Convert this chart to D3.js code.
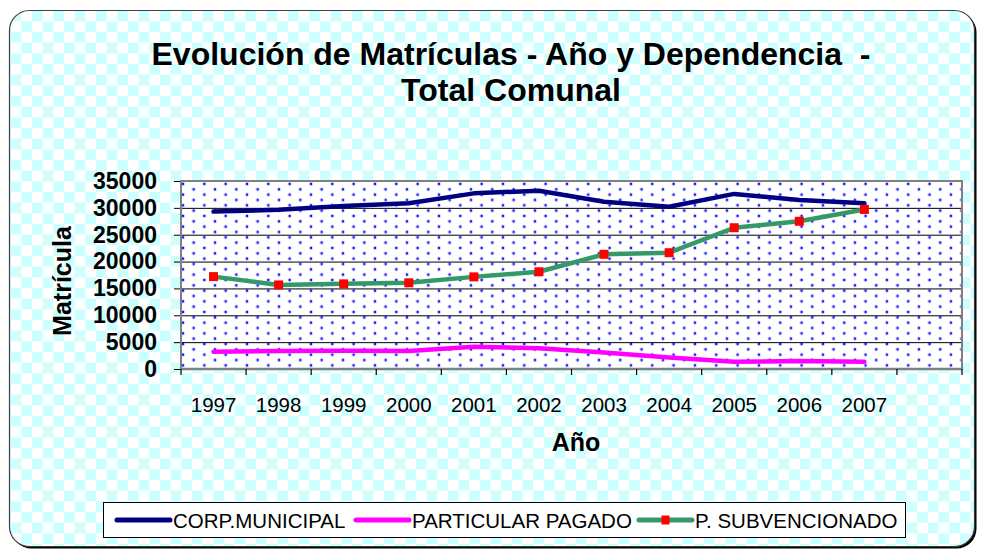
<!DOCTYPE html>
<html lang="es">
<head>
  <meta charset="UTF-8">
  <title>Evolución de Matrículas</title>
  <script src="https://cdn.jsdelivr.net/npm/d3@7"></script>
  <style>
    body { margin: 0; background: #fff; }
    svg { display: block; font-family: Arial, "Liberation Sans", sans-serif; }
    .grid line { stroke: #000; stroke-width: 1px; }
    .ylab { font-size: 23px; font-weight: bold; }
    .xlab { font-size: 20.5px; }
    .legend text { font-size: 20.5px; }
  </style>
</head>
<body>
<div class="chart"></div>
<script>
  // datos
  const years = ['1997', '1998', '1999', '2000', '2001', '2002', '2003', '2004', '2005', '2006', '2007', ''];
  const corpMunicipal = [29300, 29650, 30350, 30850, 32700, 33200, 31150, 30200, 32600, 31450, 30850];
  const particularPagado = [3230, 3350, 3400, 3350, 4150, 3850, 3050, 2150, 1350, 1500, 1350];
  const subvencionado = [17200, 15650, 15850, 16050, 17150, 18100, 21350, 21650, 26300, 27500, 29700];
  const yTicks = [0, 5000, 10000, 15000, 20000, 25000, 30000, 35000];

  const series = [
    { name: 'CORP.MUNICIPAL', values: corpMunicipal, color: '#000080', marker: false },
    { name: 'PARTICULAR PAGADO', values: particularPagado, color: '#ff00ff', marker: false },
    { name: 'P. SUBVENCIONADO', values: subvencionado, color: '#339966', marker: true }
  ];

  const W = 982, H = 552;
  const plot = { left: 181, right: 962, top: 181, bottom: 369 };

  const svg = d3.select('.chart').append('svg').attr('width', W).attr('height', H);
  const defs = svg.append('defs');

  // fondo a cuadros
  const chk = defs.append('pattern').attr('id', 'checker').attr('patternUnits', 'userSpaceOnUse')
    .attr('width', 21.33).attr('height', 21.33);
  chk.append('rect').attr('width', 21.33).attr('height', 21.33).attr('fill', '#fff');
  chk.append('rect').attr('width', 10.67).attr('height', 10.67).attr('fill', '#ccffff');
  chk.append('rect').attr('x', 10.67).attr('y', 10.67).attr('width', 10.67).attr('height', 10.67).attr('fill', '#ccffff');

  // puntos del area de trazado
  const dots = defs.append('pattern').attr('id', 'dots').attr('patternUnits', 'userSpaceOnUse')
    .attr('x', plot.left + 2).attr('y', plot.top + 3)
    .attr('width', 21.33).attr('height', 10.67);
  dots.append('rect').attr('width', 21.33).attr('height', 10.67).attr('fill', '#fff');
  [[0, 0], [21.33, 0], [0, 10.67], [21.33, 10.67], [10.67, 5.33]].forEach(([x, y]) => {
    dots.append('circle').attr('cx', x).attr('cy', y).attr('r', 1.9).attr('fill', '#c4c4ff');
    dots.append('circle').attr('cx', x).attr('cy', y).attr('r', 1.1).attr('fill', '#0000ff');
  });

  // marco exterior con sombra
  svg.append('rect').attr('x', 11.5).attr('y', 12.5).attr('width', 965).attr('height', 536)
    .attr('rx', 20).attr('fill', '#000');
  svg.append('rect').attr('x', 9.5).attr('y', 10.5).attr('width', 965).attr('height', 536)
    .attr('rx', 20).attr('fill', 'url(#checker)').attr('stroke', '#404040').attr('stroke-width', 1.2);

  // titulo
  const title = svg.append('text').attr('text-anchor', 'middle')
    .style('font-size', '32px').style('font-weight', 'bold').style('white-space', 'pre');
  title.append('tspan').attr('x', 511).attr('y', 65).text('Evolución de Matrículas - Año y Dependencia  -');
  title.append('tspan').attr('x', 511).attr('y', 101).text('Total Comunal');

  const x = d3.scaleBand().domain(years).range([plot.left, plot.right]);
  const y = d3.scaleLinear().domain([0, 35000]).range([plot.bottom, plot.top]);

  svg.append('rect').attr('x', plot.left).attr('y', plot.top)
    .attr('width', plot.right - plot.left).attr('height', plot.bottom - plot.top)
    .attr('fill', 'url(#dots)');

  // lineas de division + etiquetas eje Y
  const yAxis = svg.append('g').attr('class', 'grid')
    .attr('transform', `translate(${plot.left},0)`)
    .call(d3.axisLeft(y).tickValues(yTicks).tickFormat(d3.format('d'))
      .tickSize(-(plot.right - plot.left)).tickSizeOuter(0).tickPadding(24));
  yAxis.select('.domain').remove();
  yAxis.selectAll('line').attr('x1', -7).attr('stroke', '#000');
  yAxis.selectAll('text').attr('class', 'ylab').attr('fill', '#000').style('font-family', null);

  // borde del area
  svg.append('rect').attr('x', plot.left).attr('y', plot.top)
    .attr('width', plot.right - plot.left).attr('height', plot.bottom - plot.top)
    .attr('fill', 'none').attr('stroke', '#808080').attr('stroke-width', 2);
  svg.append('line').attr('x1', plot.left).attr('x2', plot.right)
    .attr('y1', plot.bottom).attr('y2', plot.bottom).attr('stroke', '#808080').attr('stroke-width', 2.5);

  // eje X
  const bounds = years.map(d => x(d)).concat([plot.right]);
  svg.append('g').selectAll('line').data(bounds).join('line')
    .attr('x1', d => d).attr('x2', d => d).attr('y1', plot.bottom).attr('y2', plot.bottom + 6)
    .attr('stroke', '#000').attr('stroke-width', 1.2);
  svg.append('g').selectAll('text').data(years.filter(d => d)).join('text')
    .attr('class', 'xlab').attr('text-anchor', 'middle')
    .attr('x', d => x(d) + x.bandwidth() / 2).attr('y', 412).text(d => d);

  svg.append('text').attr('x', 576).attr('y', 451).attr('text-anchor', 'middle')
    .style('font-size', '25px').style('font-weight', 'bold').text('Año');
  svg.append('text').attr('transform', 'translate(71,281) rotate(-90)')
    .attr('text-anchor', 'middle')
    .style('font-size', '25px').style('font-weight', 'bold').text('Matrícula');

  // series
  const cx = i => x(years[i]) + x.bandwidth() / 2;
  const line = d3.line().x((d, i) => cx(i)).y(d => y(d));
  series.forEach(s => {
    svg.append('path').datum(s.values).attr('d', line)
      .attr('fill', 'none').attr('stroke', s.color).attr('stroke-width', 4.5)
      .attr('stroke-linejoin', 'round').attr('stroke-linecap', 'round');
    if (s.marker) {
      svg.append('g').selectAll('rect').data(s.values).join('rect')
        .attr('x', (d, i) => cx(i) - 4.5).attr('y', d => y(d) - 4.5)
        .attr('width', 9).attr('height', 9).attr('fill', '#ff0000');
    }
  });

  // leyenda
  const legend = svg.append('g').attr('class', 'legend');
  legend.append('rect').attr('x', 103.5).attr('y', 502.5).attr('width', 802).attr('height', 35)
    .attr('fill', '#fff').attr('stroke', '#000').attr('stroke-width', 1);
  const legX = [117, 356, 639];
  series.forEach((s, i) => {
    const g = legend.append('g').attr('transform', `translate(${legX[i]},520)`);
    g.append('line').attr('x1', 0).attr('x2', 53).attr('stroke', s.color)
      .attr('stroke-width', 5).attr('stroke-linecap', 'round');
    if (s.marker) g.append('rect').attr('x', 22.5).attr('y', -4.5).attr('width', 8).attr('height', 9).attr('fill', '#ff0000');
    g.append('text').attr('x', 56).attr('y', 7.5).text(s.name);
  });
</script>
</body>
</html>
